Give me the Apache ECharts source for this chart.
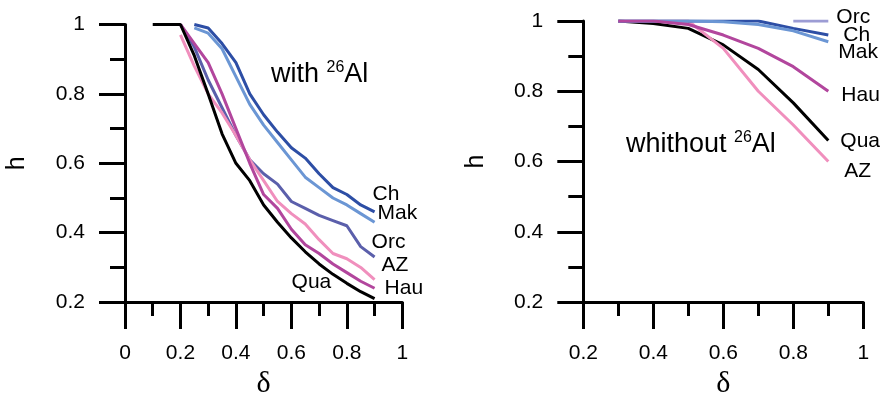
<!DOCTYPE html>
<html>
<head>
<meta charset="utf-8">
<script src="https://cdn.jsdelivr.net/npm/echarts/dist/echarts.min.js"></script>
<style>
  html, body { margin: 0; padding: 0; background: #fff; }
  #chart { width: 883px; height: 404px; }
</style>
</head>
<body>
<div id="chart"></div>
<script>
// ---- with 26Al (left panel) ----
const deltaQuaWith = [0.1, 0.15, 0.2, 0.25, 0.3, 0.35, 0.4, 0.45, 0.5, 0.55, 0.6, 0.65, 0.7, 0.75, 0.8, 0.85, 0.9];
const quaWith      = [1, 1, 1, 0.91, 0.80, 0.685, 0.60, 0.55, 0.48, 0.43, 0.385, 0.345, 0.31, 0.28, 0.254, 0.23, 0.21];

const deltaFrom020 = [0.2, 0.25, 0.3, 0.35, 0.4, 0.45, 0.5, 0.55, 0.6, 0.65, 0.7, 0.75, 0.8, 0.85, 0.9];
const orcWith      = [1, 0.935, 0.84, 0.76, 0.68, 0.61, 0.57, 0.54, 0.49, 0.47, 0.45, 0.435, 0.42, 0.36, 0.33];
const hauWith      = [1, 0.945, 0.89, 0.80, 0.70, 0.60, 0.51, 0.47, 0.41, 0.365, 0.34, 0.31, 0.285, 0.26, 0.24];
const azWith       = [0.97, 0.88, 0.80, 0.745, 0.68, 0.61, 0.55, 0.49, 0.455, 0.425, 0.38, 0.34, 0.325, 0.30, 0.265];

const deltaFrom025 = [0.25, 0.3, 0.35, 0.4, 0.45, 0.5, 0.55, 0.6, 0.65, 0.7, 0.75, 0.8, 0.85, 0.9];
const chWith       = [1.0, 0.99, 0.945, 0.89, 0.80, 0.74, 0.69, 0.645, 0.615, 0.57, 0.53, 0.51, 0.48, 0.46];
const makWith      = [0.99, 0.975, 0.93, 0.85, 0.77, 0.71, 0.66, 0.61, 0.56, 0.53, 0.50, 0.48, 0.455, 0.43];

// ---- without 26Al (right panel) ----
const deltaWithout = [0.3, 0.4, 0.5, 0.6, 0.7, 0.8, 0.9];
const quaWithout   = [1, 0.993, 0.979, 0.932, 0.862, 0.767, 0.66];
const azWithout    = [1, 1, 1, 0.922, 0.80, 0.704, 0.60];
const hauWithout   = [1, 1, 0.99, 0.96, 0.922, 0.87, 0.80];
const chWithout    = [1, 1, 1, 1, 1, 0.979, 0.96];
const makWithout   = [1, 1, 1, 0.998, 0.99, 0.972, 0.941];
const deltaOrcWithout = [0.8, 0.9];
const orcWithout      = [1, 1];

// axis ticks
const xTicksWith = [0, 0.2, 0.4, 0.6, 0.8, 1];
const xTicksWithout = [0.2, 0.4, 0.6, 0.8, 1];
const yTicks = [0.2, 0.4, 0.6, 0.8, 1];

const colors = {
  Qua: '#000000',
  AZ: '#f08fbd',
  Hau: '#b2469d',
  Orc: '#5b5fab',
  OrcLight: '#9c9cd4',
  Mak: '#6b96d4',
  Ch: '#2d4ea5'
};

const SANS = '"Liberation Sans", Arial, sans-serif';
const SERIF = '"Liberation Serif", "Times New Roman", serif';

function pairs(xs, ys) {
  return xs.map((x, i) => [x, ys[i]]);
}

function xAxisCfg(gridIndex, ticks) {
  return {
    type: 'value', gridIndex,
    min: ticks[0], max: ticks[ticks.length - 1], interval: 0.2,
    axisLine: { show: true, onZero: false, lineStyle: { color: '#000', width: 3 } },
    axisTick: { show: true, inside: false, length: 27, lineStyle: { color: '#000', width: 3 } },
    minorTick: { show: true, splitNumber: 2, length: 14, lineStyle: { color: '#000', width: 3 } },
    splitLine: { show: false }, minorSplitLine: { show: false },
    axisLabel: { margin: 41, fontSize: 21, color: '#000', fontFamily: SANS },
    name: 'δ', nameLocation: 'middle', nameGap: 64,
    nameTextStyle: { fontFamily: SERIF, fontSize: 30, color: '#000' }
  };
}

function yAxisCfg(gridIndex) {
  return {
    type: 'value', gridIndex,
    min: yTicks[0], max: yTicks[yTicks.length - 1], interval: 0.2,
    axisLine: { show: true, onZero: false, lineStyle: { color: '#000', width: 3 } },
    axisTick: { show: true, inside: false, length: 26, lineStyle: { color: '#000', width: 3 } },
    minorTick: { show: true, splitNumber: 2, length: 15, lineStyle: { color: '#000', width: 3 } },
    splitLine: { show: false }, minorSplitLine: { show: false },
    axisLabel: { margin: 40, fontSize: 21, color: '#000', fontFamily: SANS },
    name: 'h', nameLocation: 'middle', nameGap: 95, nameRotate: 90,
    nameTextStyle: { fontFamily: SANS, fontSize: 25, color: '#000' }
  };
}

function lineSeries(name, panel, xs, ys, color, offset, z) {
  return {
    type: 'line', name,
    xAxisIndex: panel, yAxisIndex: panel,
    data: pairs(xs, ys),
    symbol: 'none', smooth: false, z: z,
    lineStyle: { color, width: 3 },
    itemStyle: { color },
    endLabel: {
      show: true, formatter: name, distance: 0, offset,
      fontSize: 21, color: '#000', fontFamily: SANS
    }
  };
}

// panel caption: plain text with a superscript mass number
function caption(prefix, left, top) {
  return {
    text: '{a|' + prefix + '}{s|26}{a|Al}',
    left, top, padding: 0,
    textStyle: {
      fontWeight: 'normal',
      rich: {
        a: { fontFamily: SANS, fontSize: 27, fontWeight: 'normal', color: '#000', lineHeight: 28, verticalAlign: 'bottom' },
        s: { fontFamily: SANS, fontSize: 16, fontWeight: 'normal', color: '#000', lineHeight: 28, verticalAlign: 'top' }
      }
    }
  };
}

const chart = echarts.init(document.getElementById('chart'), null, { renderer: 'canvas' });

chart.setOption({
  animation: false,
  backgroundColor: '#fff',
  title: [caption('with ', 271, 60), caption('whithout ', 626, 130)],
  grid: [
    { left: 125, top: 24.5, width: 277.3, height: 278 },
    { left: 583.3, top: 21, width: 280, height: 281.5 }
  ],
  xAxis: [xAxisCfg(0, xTicksWith), xAxisCfg(1, xTicksWithout)],
  yAxis: [yAxisCfg(0), yAxisCfg(1)],
  series: [
    // with 26Al
    lineSeries('Mak', 0, deltaFrom025, makWith, colors.Mak, [3, -9], 2),
    lineSeries('Ch', 0, deltaFrom025, chWith, colors.Ch, [-2, -18], 3),
    lineSeries('Orc', 0, deltaFrom020, orcWith, colors.Orc, [-3, -15], 4),
    lineSeries('AZ', 0, deltaFrom020, azWith, colors.AZ, [7, -14], 5),
    lineSeries('Hau', 0, deltaFrom020, hauWith, colors.Hau, [10, 0], 6),
    lineSeries('Qua', 0, deltaQuaWith, quaWith, colors.Qua, [-83, -16], 7),
    // without 26Al
    lineSeries('Qua', 1, deltaWithout, quaWithout, colors.Qua, [12, 1], 2),
    lineSeries('AZ', 1, deltaWithout, azWithout, colors.AZ, [16, 10], 3),
    lineSeries('Ch', 1, deltaWithout, chWithout, colors.Ch, [15, 0], 4),
    lineSeries('Mak', 1, deltaWithout, makWithout, colors.Mak, [10, 10], 5),
    lineSeries('Hau', 1, deltaWithout, hauWithout, colors.Hau, [13, 4], 6),
    lineSeries('Orc', 1, deltaOrcWithout, orcWithout, colors.OrcLight, [8, -4], 7)
  ]
});
</script>
</body>
</html>
